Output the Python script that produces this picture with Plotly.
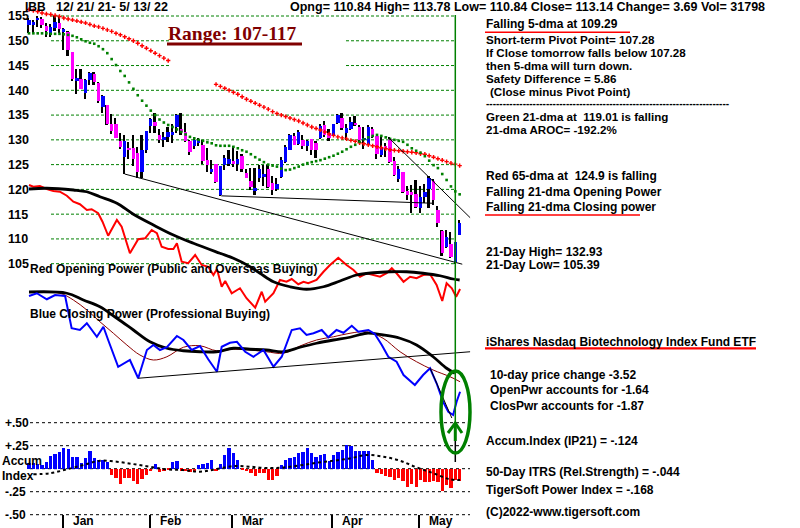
import plotly.graph_objects as go

# ---------------- data ----------------
months = ["Jan", "Feb", "Mar", "Apr", "May"]
month_start = [8, 28, 47, 70, 90]          # bar index of first session of each month

opens = [153.1,153.1,154.1,154.3,153.0,151.6,152.6,153.5,151.9,151.8,
         147.7,141.9,142.2,139.5,142.1,143.3,141.4,136.6,137.0,133.2,
         133.2,129.8,126.6,128.3,128.4,127.4,123.6,127.9,132.7,133.7,
         131.0,130.0,130.5,131.0,132.5,132.2,131.6,129.8,128.8,129.4,
         128.9,125.9,123.6,125.1,118.9,124.9,125.1,125.8,125.1,126.7,
         123.4,121.7,119.7,122.4,122.6,124.2,121.2,120.0,122.6,125.6,
         128.0,130.8,129.2,130.0,128.8,130.1,129.3,130.3,132.9,131.4,
         130.8,133.5,134.5,131.3,132.1,133.4,132.5,130.0,129.2,132.1,
         130.8,127.0,128.6,130.1,125.8,122.0,123.6,119.7,119.5,119.1,
         116.2,118.4,120.0,121.6,115.8,111.7,108.4,109.0,105.4,110.84]
highs = [154.5,154.2,155.1,154.9,153.5,153.4,155.0,155.1,152.5,151.9,
         147.8,144.3,144.3,142.3,143.7,143.7,141.6,139.1,137.0,135.2,
         134.5,131.4,130.9,129.6,130.9,128.6,131.0,131.8,134.4,135.4,
         132.1,131.5,132.5,133.2,135.3,135.4,133.5,129.9,130.5,130.3,
         130.0,128.4,125.9,125.1,124.7,126.9,127.9,128.7,127.8,127.2,
         124.2,124.3,124.3,124.9,124.9,124.9,122.7,122.4,126.6,129.0,
         131.2,131.4,132.0,131.0,130.0,130.1,129.7,133.3,133.9,132.1,
         133.3,135.3,135.5,133.3,134.7,134.9,133.0,132.6,133.0,132.6,
         130.8,130.8,129.4,130.6,126.5,124.7,123.6,120.6,120.8,121.8,
         120.7,121.0,122.7,122.0,116.6,111.9,111.9,111.5,109.4,113.78]
lows = [151.6,151.6,152.7,152.6,150.8,150.8,152.0,151.6,148.2,146.9,
        141.9,139.3,140.2,138.3,141.0,141.0,137.4,135.5,132.9,131.2,
        130.3,128.2,123.1,126.1,124.7,122.4,122.2,127.3,131.3,131.3,
        129.3,128.6,129.6,129.3,131.3,130.9,129.5,126.9,128.2,128.8,
        125.2,123.6,123.2,121.2,118.6,123.9,124.8,124.5,123.8,123.5,
        122.2,119.9,118.8,121.4,120.7,120.3,118.9,119.7,122.2,125.3,
        128.0,129.0,129.0,128.1,127.7,126.9,126.4,130.1,130.6,129.8,
        130.8,133.3,132.0,130.0,131.9,132.8,129.3,128.1,128.9,130.3,
        126.2,126.6,126.5,125.3,122.7,121.4,119.2,117.9,115.3,116.2,
        115.3,117.2,116.2,116.9,112.4,106.5,108.1,106.2,105.0,110.84]
closes = [154.1,153.8,154.6,153.1,152.0,152.7,153.8,152.4,152.3,148.1,
          142.3,142.5,140.3,142.1,143.4,141.7,137.8,138.9,133.2,131.7,
          130.4,128.6,129.8,128.0,126.1,123.6,127.9,131.8,134.2,132.7,
          130.0,130.6,131.6,131.6,135.0,131.6,129.8,127.6,130.0,130.0,
          125.8,124.9,124.1,121.4,124.7,126.3,126.1,125.1,126.1,124.2,
          122.3,120.4,120.3,124.2,123.1,120.5,119.8,121.1,125.9,128.6,
          131.0,129.0,131.6,128.8,129.8,127.9,127.9,132.8,131.0,130.3,
          133.1,135.0,132.3,132.3,133.7,132.9,130.0,130.3,132.5,130.6,
          127.1,128.5,128.5,125.6,122.9,124.2,119.5,118.9,118.9,116.4,
          118.5,119.5,122.2,117.8,113.2,107.2,110.3,106.4,109.4,113.14]

# red 65-dma (hidden behind the Range label between bars 33 and 42)
ma65 = [156.3,156.1,155.9,155.6,155.4,155.3,155.1,154.9,154.6,154.4,
        154.2,154.0,153.8,153.6,153.3,153.0,152.8,152.5,152.2,151.9,
        151.5,151.2,150.8,150.4,150.0,149.5,149.0,148.5,148.0,147.5,
        147.0,146.5,146.0,None,None,None,None,None,None,None,
        None,None,None,141.2,140.8,140.4,140.0,139.6,139.2,138.7,
        138.2,137.8,137.4,137.0,136.6,136.2,135.7,135.3,135.0,134.7,
        134.4,134.1,133.8,133.4,133.0,132.6,132.3,132.0,131.6,131.2,
        130.9,130.6,130.4,130.2,129.9,129.7,129.4,129.2,129.0,128.8,
        128.6,128.4,128.2,128.0,127.9,127.8,127.7,127.6,127.5,127.4,
        127.2,127.1,126.8,126.5,126.2,125.9,125.6,125.3,125.1,124.8]
# green 21-dma
ma21 = [151.5,151.5,151.5,151.5,151.5,151.4,151.4,151.4,151.3,151.2,
        151.0,150.7,150.3,149.9,149.6,149.4,148.9,148.3,147.5,146.3,
        145.1,143.9,142.9,141.6,140.3,139.0,137.9,136.9,135.9,135.0,
        134.1,133.5,133.0,132.6,132.1,131.6,131.1,130.6,130.3,130.0,
        129.8,129.5,129.3,128.9,128.8,128.8,128.8,128.6,128.3,127.9,
        127.6,127.1,126.5,126.0,125.5,125.0,124.8,124.6,124.2,123.9,
        124.0,124.3,124.6,125.0,125.3,125.5,125.7,125.9,126.2,126.5,
        126.8,127.2,127.6,128.1,128.6,129.0,129.6,130.1,130.5,130.8,
        131.0,130.8,130.5,130.2,130.0,129.8,129.6,129.0,128.3,127.8,
        127.4,126.7,125.8,124.9,124.3,123.1,121.9,120.6,119.6,119.0]

# Opening power (arbitrary units) and its moving average
op_x = [0,1,2.5,4.1,5.6,7.1,8.7,10.2,11.7,13.3,14.4,15.9,16.9,18.2,20.2,21.3,23.2,25.1,26.7,28.2,
        29.4,30.5,32,33.2,34,35.1,36.6,38.2,39.7,41.2,42.4,43.2,44.3,45.1,46.6,48.5,50,52,53.5,54.3,
        56.2,57.7,59.2,60.4,61.9,63.1,64.2,66.1,67.7,69.2,71.1,73,74.6,76.1,77.6,79.2,80.7,82.2,83.4,84.5,
        86.1,87.6,89.1,90.6,92.2,93.7,95,96,97.2,98.2,99.1]
op_v = [100,98.6,99.2,96.8,95.2,94.6,91.4,86.6,84.6,80,80.6,77.4,70.6,59.4,72,66.6,45.4,56.6,57.4,64,
        61.4,50.6,48.8,48.8,53.4,38.6,37.4,44,36,34.6,28,32.8,18.6,23.2,13.4,17.4,9.4,1.8,14.6,6.6,
        13.4,24,22.6,24.8,20.6,22.6,21.4,24,30.6,36,41.8,36,32,26.6,29.4,28,26.6,29.4,33.4,29.4,
        22.6,26.6,25.4,28,28.6,20,7.2,21.4,17.4,10.6,16.8]
op_ma_x = [0,4.1,10.2,13.3,16.3,20.2,24,28.6,33.2,37.8,43.9,47,50.4,53.1,56.2,60,63.8,67.7,71.5,75.3,
           79.2,83,86.8,90.6,94.5,97.5,99]
op_ma_v = [96.8,97.4,96,94.6,90.6,85.4,76.6,68,60,53.4,45.4,41.4,35.5,29.4,22.6,18.6,16.6,18.6,23.2,28,
           29.8,30.6,30.6,29.4,27.4,24.8,24]

# Closing power (arbitrary units) and its moving averages
cp_x = [0,1.8,4.1,6,8.3,9.8,11.7,13.3,15.6,17.1,18.2,20.5,23.2,25.1,27.1,28.6,30.1,31.7,34,35.5,
        37.4,39.3,41.2,43.2,44.3,46.2,47.8,49.7,51.6,53.9,56.2,58.1,60.4,62.3,63.8,65.4,67.3,68.8,70.7,72.3,
        74.2,75.7,78,79.5,81.1,82.6,84.5,86.1,88.7,90.6,92.2,93.7,95.2,96.4,97.5,98.3,99.1]
cp_v = [99.2,101.4,96.6,100,99.2,73.4,72,77.4,66.6,74.6,64,42.6,48,33.4,56,60,56,58.2,67.2,64,
        56,59.2,48.6,38.6,58.6,61.8,62.6,54.6,50.6,56,42.6,50.6,72,73.4,68,69.4,72,66.2,72,69.8,
        75.4,70.6,72,68.8,60,50.6,46.6,36,28,36,41.4,29.4,14.6,6.6,4,14.6,22.6]
cp_ma_x = [0,8.7,12.5,16.3,20.2,24,27.8,31.7,35.5,39.3,43.1,47,50.8,54.6,58.5,62.3,66.1,70,73.8,77.6,
           81.4,85.3,89.1,92.9,96,97.9]
cp_ma_v = [102.4,101.4,96,90.6,81.4,72,62.6,57.4,55.4,54.6,54.6,57.4,56.6,56,54.6,58.2,61.4,64,66.2,69.4,
           68,65.4,60,50.6,41.4,37.4]
cp_ma21_x = [0,7.1,10.2,13.3,16.3,19.4,22.5,25.5,28.6,31.7,35.5,39.3,43.1,47,50.8,54.6,58.5,62.3,66.1,70,
             73.8,77.6,81.4,85.3,89.1,92.9,96.8,99.1]
cp_ma21_v = [102.6,101.4,96,88,78.6,69.4,60,52,48,50.6,58.2,59.4,55.4,56.6,56,54.6,53.4,59.2,64,66.6,
             69.4,70.6,65.4,54.6,46.6,40,34.6,30.6]

# Accumulation index (IP21) per session and its moving average
accum = [0.065,0.065,0.05,0.04,0.076,0.138,0.16,0.185,0.22,0.21,
         0.13,0.13,0.058,0.112,0.19,0.112,0.094,0.094,0.076,-0.069,
         -0.105,-0.17,-0.105,-0.098,-0.13,-0.17,-0.116,-0.072,-0.03,0.05,
         -0.033,-0.025,-0.015,0.076,0.083,-0.02,-0.025,-0.033,-0.036,0.04,
         0.05,0.065,0.1,-0.025,0.05,0.15,0.23,0.174,0.094,-0.015,
         -0.03,-0.043,-0.08,-0.043,-0.05,-0.123,-0.123,-0.08,0.04,0.094,
         0.112,0.13,0.167,0.185,0.23,0.167,0.13,0.15,0.16,0.087,
         0.15,0.185,0.2,0.257,0.246,0.196,0.19,0.19,0.19,0.094,
         -0.043,-0.06,-0.08,-0.094,-0.123,-0.098,-0.13,-0.196,-0.17,-0.2,
         -0.123,-0.14,-0.14,-0.134,-0.14,-0.24,-0.178,-0.214,-0.123,-0.13]
accum_ma_x = [1,4.8,8.7,12.5,16.3,20.2,24,27.8,31.6,35.5,39.3,43.1,47,50.8,54.6,58.5,62.3,66.1,70,73.8,
              77.6,81.5,85.3,89.1,93,96.8,99.1]
accum_ma_v = [-0.06,-0.05,-0.007,0.04,0.087,0.076,0.05,0.022,-0.007,-0.015,-0.033,-0.004,0.029,0.022,0.007,
              0.014,0.036,0.065,0.087,0.112,0.149,0.13,0.087,0.014,-0.05,-0.116,-0.123]

price_ticks = [155, 150, 145, 140, 135, 130, 125, 120, 115, 110, 105]
accum_ticks = [0.5, 0.25, -0.25, -0.5]
accum_ticktext = ["+.50", "+.25", "-.25", "-.50"]

# trend lines (bar index, value)
price_trend = [((22, 123.1), (99.6, 104.9)), ((44.2, 118.7), (92.9, 117.2)), ((82.5, 130.6), (101.4, 114.3))]
cp_trend = [((25.1, 33.4), (101.4, 54.6)), ((92.2, 41.6), (97.2, 1.6))]

# ---------------- layout geometry ----------------
W, H = 800, 528
X0_PX, BAR_PX = 29.0, 4.35
x_range = [-X0_PX / BAR_PX, (W - X0_PX) / BAR_PX]


def yrange(va, pa, vb, pb):
    k = (va - vb) / (pb - pa)
    return [va - k * (H - pa), va + k * pa]


def px(x):
    return x / W


def py(y):
    return 1 - y / H


FONT = "Liberation Sans"
idx = list(range(len(closes)))

fig = go.Figure()

# moving averages on price
fig.add_trace(go.Scatter(x=idx, y=ma65, mode="markers", yaxis="y",
                         marker=dict(symbol="cross", size=3.6, color="#FF0000", line=dict(width=0))))
fig.add_trace(go.Scatter(x=idx, y=ma21, mode="markers", yaxis="y",
                         marker=dict(symbol="square", size=2.6, color="#008000", line=dict(width=0))))

# candles: wick + body
fig.add_trace(go.Bar(x=idx, y=[h - l for h, l in zip(highs, lows)], base=lows, yaxis="y",
                     width=0.4, offset=-0.3, marker=dict(color="black", line=dict(width=0))))
fig.add_trace(go.Bar(x=idx, y=[max(abs(c - o), 0.3) for o, c in zip(opens, closes)],
                     base=[min(o, c) for o, c in zip(opens, closes)], yaxis="y",
                     width=0.78, offset=-0.4,
                     marker=dict(color=["#0000FF" if c >= o else "#FF00FF" for o, c in zip(opens, closes)],
                                 line=dict(width=0))))

# opening power
fig.add_trace(go.Scatter(x=op_x, y=op_v, mode="lines", yaxis="y2", line=dict(color="#FF0000", width=2)))
fig.add_trace(go.Scatter(x=op_ma_x, y=op_ma_v, mode="lines", yaxis="y2", line=dict(color="black", width=2.8, shape="spline")))

# closing power
fig.add_trace(go.Scatter(x=cp_ma21_x, y=cp_ma21_v, mode="lines", yaxis="y3", line=dict(color="#8B0000", width=1, shape="spline")))
fig.add_trace(go.Scatter(x=cp_ma_x, y=cp_ma_v, mode="lines", yaxis="y3", line=dict(color="black", width=2.8, shape="spline")))
fig.add_trace(go.Scatter(x=cp_x, y=cp_v, mode="lines", yaxis="y3", line=dict(color="#0000FF", width=2)))

# accumulation index
fig.add_trace(go.Bar(x=idx, y=accum, yaxis="y4", width=0.75, offset=-0.37,
                     marker=dict(color=["#0000FF" if v >= 0 else "#FF0000" for v in accum], line=dict(width=0))))
fig.add_trace(go.Scatter(x=accum_ma_x, y=accum_ma_v, mode="lines", yaxis="y4",
                         line=dict(color="black", width=2, dash="dot", shape="spline")))

shapes = []
# price grid (dashed green), broken behind the Range label
gx0, gx1 = (51 - X0_PX) / BAR_PX, (455 - X0_PX) / BAR_PX
bx0, bx1 = (169 - X0_PX) / BAR_PX, (346 - X0_PX) / BAR_PX
for t in price_ticks:
    segs = [(gx0, bx0), (bx1, gx1)] if t in (150, 145) else [(gx0, gx1)]
    for a, b in segs:
        shapes.append(dict(type="line", xref="x", yref="y", x0=a, x1=b, y0=t, y1=t, layer="below",
                           line=dict(color="#008000", width=1, dash="3px,2px")))
# accum grid (dotted black)
ax0, ax1 = (30 - X0_PX) / BAR_PX, (470 - X0_PX) / BAR_PX
for t in [0.5, 0.25, 0, -0.25, -0.5]:
    shapes.append(dict(type="line", xref="x", yref="y4", x0=ax0, x1=ax1, y0=t, y1=t, layer="below",
                       line=dict(color="black", width=1, dash="dot")))
# trend lines
for (a, b) in price_trend:
    shapes.append(dict(type="line", xref="x", yref="y", x0=a[0], y0=a[1], x1=b[0], y1=b[1],
                       line=dict(color="black", width=1)))
for (a, b) in cp_trend:
    shapes.append(dict(type="line", xref="x", yref="y3", x0=a[0], y0=a[1], x1=b[0], y1=b[1],
                       line=dict(color="black", width=1)))
# vertical green marker line at the signal bar
shapes.append(dict(type="line", xref="x", yref="paper", x0=98, x1=98, y0=py(440), y1=py(15),
                   line=dict(color="#008000", width=1.5)))
shapes.append(dict(type="line", xref="x", yref="paper", x0=98, x1=98, y0=py(462), y1=py(440),
                   line=dict(color="black", width=1.5)))
# ellipse + arrow
shapes.append(dict(type="circle", xref="paper", yref="paper", x0=px(441), x1=px(470), y0=py(453), y1=py(371),
                   line=dict(color="#008000", width=3.5)))
shapes.append(dict(type="path", xref="paper", yref="paper",
                   path=f"M {px(448)},{py(433)} L {px(455.3)},{py(423)} L {px(462)},{py(433)}",
                   line=dict(color="#008000", width=3)))
shapes.append(dict(type="line", xref="paper", yref="paper", x0=px(455.3), x1=px(455.3), y0=py(441), y1=py(423),
                   line=dict(color="#008000", width=3)))
# underlines
shapes.append(dict(type="line", xref="paper", yref="paper", x0=px(167), x1=px(302), y0=py(44), y1=py(44),
                   line=dict(color="#800000", width=3)))
for (a, b, yy, w) in [(485, 630, 32.3, 1.5), (485, 640, 215, 1.5), (485, 756, 348.3, 2.2)]:
    shapes.append(dict(type="line", xref="paper", yref="paper", x0=px(a), x1=px(b), y0=py(yy), y1=py(yy),
                       line=dict(color="#FF0000", width=w)))

ann = []


def txt(s, x, y, size=12, color="black", family=FONT):
    ann.append(dict(text=f"<b>{s}</b>", x=px(x), y=py(y), xref="paper", yref="paper",
                    xanchor="left", yanchor="middle", showarrow=False, borderpad=0,
                    font=dict(size=size, color=color, family=family)))


txt("IBB", 24, 6.5, 12)
txt("12/ 21/ 21- 5/ 13/ 22", 55, 6.5, 12.5)
txt("Opng= 110.84 High= 113.78 Low= 110.84 Close= 113.14 Change= 3.69 Vol= 31798", 289, 6.5, 12.5)
txt("Range: 107-117", 167, 33, 19.5, "#800000", "Liberation Serif")

txt("Falling 5-dma at 109.29", 485, 24.5)
block = [("Short-term Pivot Point= 107.28", 39.4), ("If Close tomorrow falls below 107.28", 52.3),
         ("then 5-dma will turn down.", 65.2), ("Safety Difference = 5.86", 78.1),
         ("(Close minus Pivot Point)", 91.0)]
for s, y in block:
    txt(s, 489 if s.startswith("(Close") else 485, y, 11.6)
txt("-" * 73, 485, 103.6, 10)
txt("Green 21-dma at  119.01 is falling", 485, 116.4, 11.6)
txt("21-dma AROC= -192.2%", 485, 129.6, 11.6)

right = [("Red 65-dma at  124.9 is falling", 175.7),
         ("Falling 21-dma Opening Power", 192.3), ("Falling 21-dma Closing power", 207.3),
         ("21-Day High= 132.93", 251.8), ("21-Day Low= 105.39", 265.2),
         ("iShares Nasdaq Biotechnology Index Fund ETF", 341.7),
         ("Accum.Index (IP21) = -.124", 441), ("50-Day ITRS (Rel.Strength) = -.044", 471.7),
         ("TigerSoft Power Index = -.168", 490), ("(C)2022-www.tigersoft.com", 511.7)]
for s, y in right:
    txt(s, 485, y)
for s, y in [("10-day price change -3.52", 375), ("OpenPwr accounts for -1.64", 389.5),
             ("ClosPwr accounts for -1.87", 405.7)]:
    txt(s, 489, y)

txt("Red Opening Power (Public and Overseas Buying)", 29, 268.7)
txt("Blue Closing Power (Professional Buying)", 29, 314.3)
txt("Accum", 1, 461.3)
txt("Index", 1, 475.7)

for m, i0 in zip(months, month_start):
    ann.append(dict(text=f"<b>{m}</b>", x=i0 - 0.25, y=py(521), xref="x", yref="paper", xanchor="left",
                    yanchor="middle", xshift=8, showarrow=False, font=dict(size=12, color="black", family=FONT)))

hidden = dict(visible=False, overlaying="y", fixedrange=True)
fig.update_layout(
    width=W, height=H, margin=dict(l=0, r=0, t=0, b=0, pad=0),
    paper_bgcolor="white", plot_bgcolor="white", showlegend=False, barmode="overlay",
    bargap=0,
    xaxis=dict(range=x_range, domain=[0, 1], showgrid=False, zeroline=False, showline=False,
               tickvals=[m - 0.25 for m in month_start], ticktext=[""] * len(month_start),
               ticks="inside", ticklen=13, tickwidth=1.5, tickcolor="black"),
    yaxis=dict(range=yrange(155, 16, 105, 263.7), domain=[0, 1], anchor="free", position=0,
               showgrid=False, zeroline=False, showline=False,
               tickvals=price_ticks, ticktext=[f"<b>{t}</b>" for t in price_ticks],
               ticklabelposition="inside", ticklabelstandoff=4,
               tickfont=dict(family=FONT, size=12.5, color="black")),
    yaxis2=dict(range=yrange(100, 185, 0, 310), **hidden),
    yaxis3=dict(range=yrange(100, 295, 0, 420), **hidden),
    yaxis4=dict(range=yrange(0.5, 422.7, -0.5, 514.7), overlaying="y", anchor="free", position=0,
                showgrid=False, zeroline=False, showline=False,
                tickvals=accum_ticks, ticktext=[f"<b>{t}</b>" for t in accum_ticktext],
                ticklabelposition="inside", ticklabelstandoff=1,
                tickfont=dict(family=FONT, size=12, color="black")),
    shapes=shapes, annotations=ann,
)

fig.write_html("out.html")
